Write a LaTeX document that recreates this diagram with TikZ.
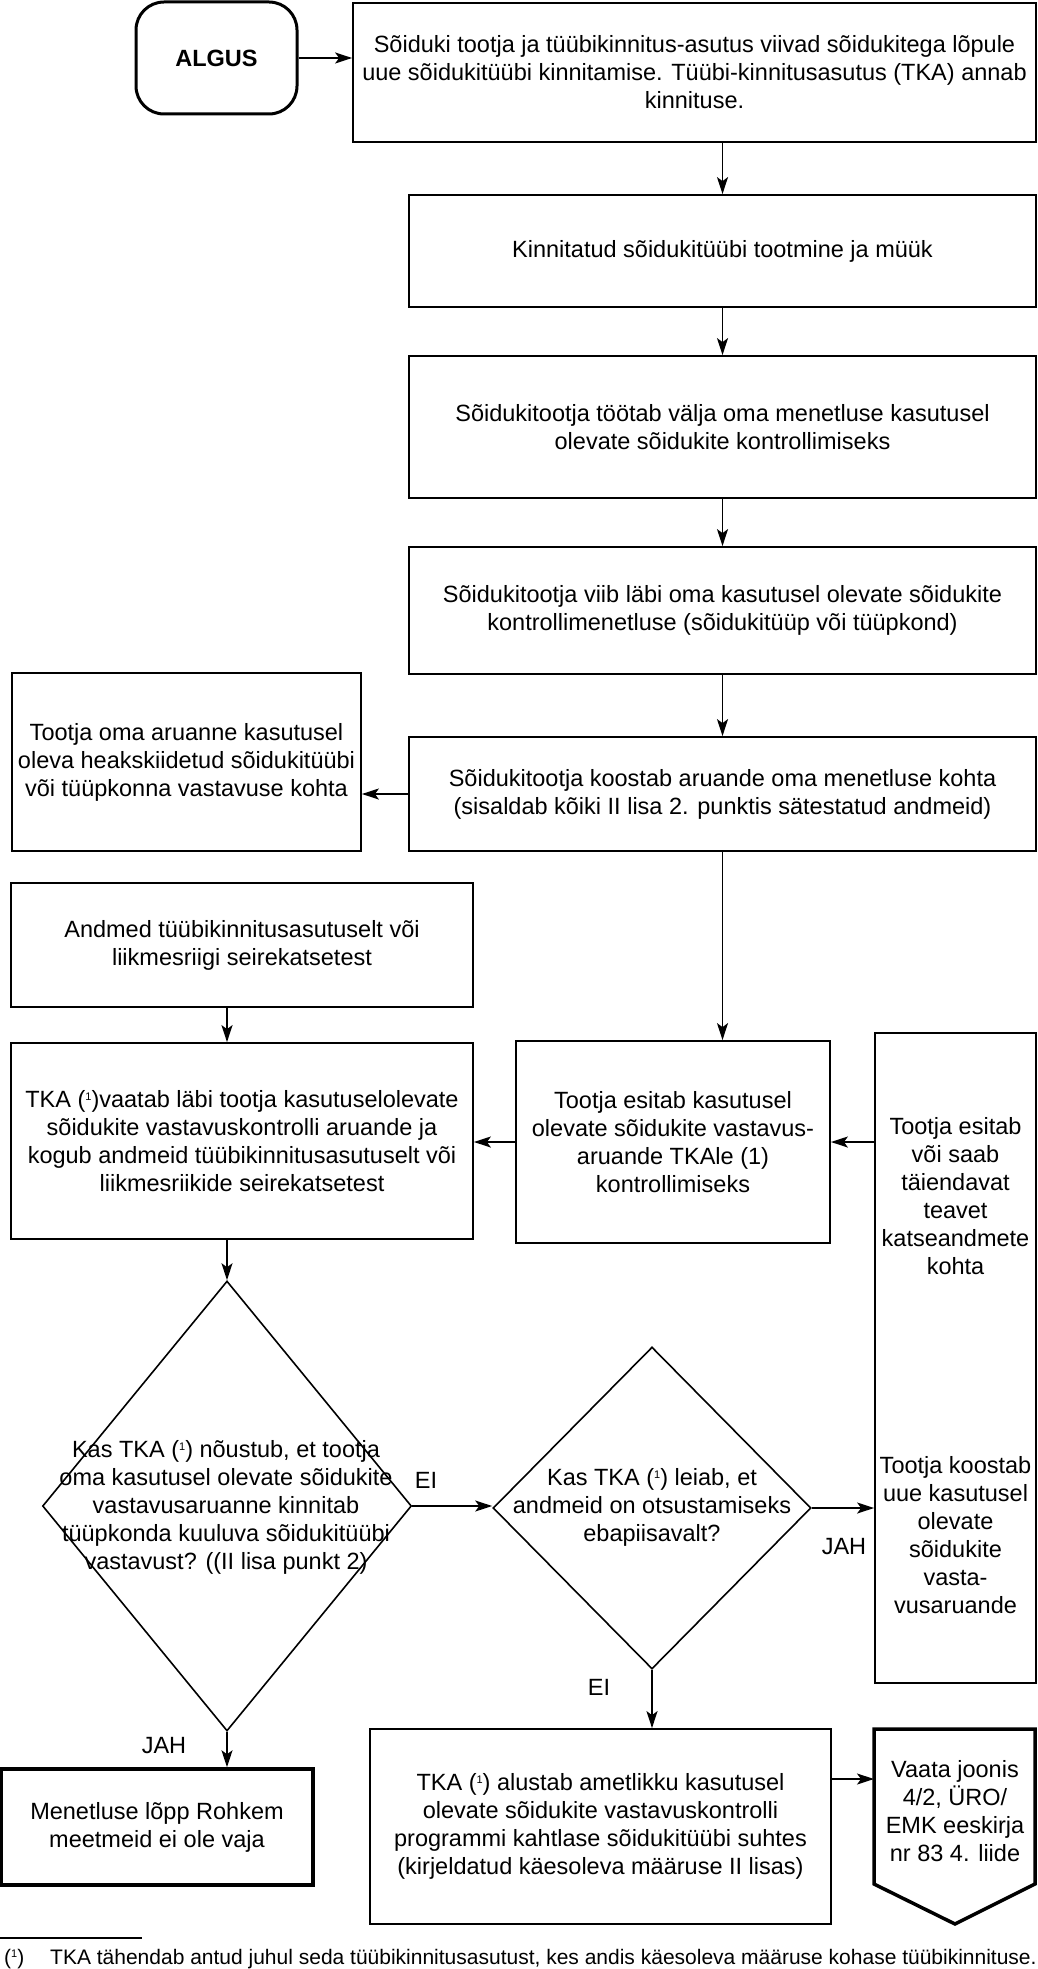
\documentclass[tikz,border=0pt]{standalone}
\usepackage{fontspec}
\setmainfont{Liberation Sans}
\usetikzlibrary{arrows.meta,shapes.geometric}
\newcommand{\fnum}{\raisebox{0.55ex}{\fontsize{11}{11}\selectfont 1}}
\begin{document}
\begin{tikzpicture}[x=1pt,y=-1pt,
  every node/.style={font=\fontsize{23.5}{28}\selectfont, text=black},
  box/.style={draw, rectangle, line width=1.8pt, inner sep=0pt, align=center},
  thickbox/.style={box, line width=3.5pt},
  txt/.style={inner sep=0pt, align=center},
  dia/.style={draw, diamond, line width=1.6pt, inner sep=0pt},
  arr/.style={-{Stealth[length=17pt,width=11pt,inset=4pt]}, line width=1.5pt},
  lbl/.style={inner sep=0pt}]
\useasboundingbox (0,0) rectangle (1038,1969);

\node[box, rounded corners=28pt, line width=3pt, minimum width=161pt, minimum height=112pt,
      font=\bfseries\fontsize{23.5}{28}\selectfont] (algus) at (216.5,58) {ALGUS};
\node[box, minimum width=683pt, minimum height=139pt] (b1) at (694.5,72.5)
  {Sõiduki tootja ja tüübikinnitus-asutus viivad sõidukitega lõpule\\uue sõidukitüübi kinnitamise. Tüübi-kinnitusasutus (TKA) annab\\kinnituse.};
\node[box, minimum width=627pt, minimum height=112pt] (b2) at (722.5,251)
  {Kinnitatud sõidukitüübi tootmine ja müük};
\node[box, minimum width=627pt, minimum height=142pt] (b3) at (722.5,427)
  {Sõidukitootja töötab välja oma menetluse kasutusel\\olevate sõidukite kontrollimiseks};
\node[box, minimum width=627pt, minimum height=127pt] (b4) at (722.5,610.5)
  {Sõidukitootja viib läbi oma kasutusel olevate sõidukite\\kontrollimenetluse (sõidukitüüp või tüüpkond)};
\node[box, minimum width=627pt, minimum height=114pt] (b5) at (722.5,794)
  {Sõidukitootja koostab aruande oma menetluse kohta\\(sisaldab kõiki II lisa 2. punktis sätestatud andmeid)};
\node[box, minimum width=349pt, minimum height=178pt] (left) at (186.5,762)
  {Tootja oma aruanne kasutusel\\oleva heakskiidetud sõidukitüübi\\või tüüpkonna vastavuse kohta};
\node[box, minimum width=462pt, minimum height=124pt] (andmed) at (242,945)
  {Andmed tüübikinnitusasutuselt või\\liikmesriigi seirekatsetest};
\node[box, minimum width=462pt, minimum height=196pt] (tka) at (242,1141)
  {TKA (\fnum)vaatab läbi tootja kasutuselolevate\\sõidukite vastavuskontrolli aruande ja\\kogub andmeid tüübikinnitusasutuselt või\\liikmesriikide seirekatsetest};
\node[box, minimum width=314pt, minimum height=202pt] (esitab) at (673,1142)
  {Tootja esitab kasutusel\\olevate sõidukite vastavus-\\aruande TKAle (1)\\kontrollimiseks};
\node[box, minimum width=161pt, minimum height=650pt] (tall) at (955.5,1358) {};
\node[txt] (tallA) at (955.5,1196.5)
  {Tootja esitab\\või saab\\täiendavat\\teavet\\katseandmete\\kohta};
\node[txt] (tallB) at (955.5,1535)
  {Tootja koostab\\uue kasutusel\\olevate\\sõidukite\\vasta-\\vusaruande};

\node[dia, minimum width=369pt, minimum height=450pt] (d1) at (227,1506) {};
\node[txt] (d1t) at (226,1507)
  {Kas TKA (\fnum) nõustub, et tootja\\oma kasutusel olevate sõidukite\\vastavusaruanne kinnitab\\tüüpkonda kuuluva sõidukitüübi\\vastavust? ((II lisa punkt 2)};
\node[dia, minimum width=318pt, minimum height=322pt] (d2) at (652,1508) {};
\node[txt] (d2t) at (652,1507)
  {Kas TKA (\fnum) leiab, et\\andmeid on otsustamiseks\\ebapiisavalt?};

\node[thickbox, minimum width=312pt, minimum height=116pt] (menet) at (157,1827)
  {Menetluse lõpp Rohkem\\meetmeid ei ole vaja};
\node[box, minimum width=461pt, minimum height=195pt] (alustab) at (600.5,1826.5)
  {TKA (\fnum) alustab ametlikku kasutusel\\olevate sõidukite vastavuskontrolli\\programmi kahtlase sõidukitüübi suhtes\\(kirjeldatud käesoleva määruse II lisas)};

\draw[line width=3.5pt, line join=miter] (874,1729) -- (1035,1729) -- (1035,1884) -- (955,1924) -- (874,1884) -- cycle;
\node[txt] (off) at (955,1811) {Vaata joonis\\4/2, ÜRO/\\EMK eeskirja\\nr 83 4. liide};
\coordinate (offW) at (874,1779);

% connectors
\draw[arr] (algus.east) -- (algus.east -| b1.west);
\draw[arr] (b2.north |- b1.south) -- (b2.north);
\draw[arr] (b2.south) -- (b3.north);
\draw[arr] (b3.south) -- (b4.north);
\draw[arr] (b4.south) -- (b5.north);
\draw[arr] (b5.west) -- (b5.west -| left.east);
\draw[arr] (b5.south) -- (b5.south |- esitab.north);
\draw[arr] (d1.north |- andmed.south) -- (d1.north |- tka.north);
\draw[arr] (d1.north |- tka.south) -- (d1.north);
\draw[arr] (tall.west |- esitab.east) -- (esitab.east);
\draw[arr] (esitab.west) -- (esitab.west -| tka.east);
\draw[arr] (d1.east) -- (d1.east -| d2.west);
\draw[arr] (d2.east) -- (d2.east -| tall.west);
\draw[arr] (d1.south) -- (d1.south |- menet.north);
\draw[arr] (d2.south) -- (d2.south |- alustab.north);
\draw[arr] (alustab.east |- offW) -- (offW);

\node[lbl] (ei1) at (426,1480) {EI};
\node[lbl] (jah1) at (844,1547) {JAH};
\node[lbl] (jah2) at (164,1746) {JAH};
\node[lbl] (ei2) at (599,1687) {EI};

% footnote
\draw[line width=1.2pt] (0,1938) -- (142,1938);
\node[lbl, anchor=base west, font=\fontsize{21}{25}\selectfont] (fnmark) at (4,1964) {(\fnum)};
\node[lbl, anchor=base west, font=\fontsize{21}{25}\selectfont] (fntext) at (50,1964)
  {TKA tähendab antud juhul seda tüübikinnitusasutust, kes andis käesoleva määruse kohase tüübikinnituse.};
\end{tikzpicture}
\end{document}
